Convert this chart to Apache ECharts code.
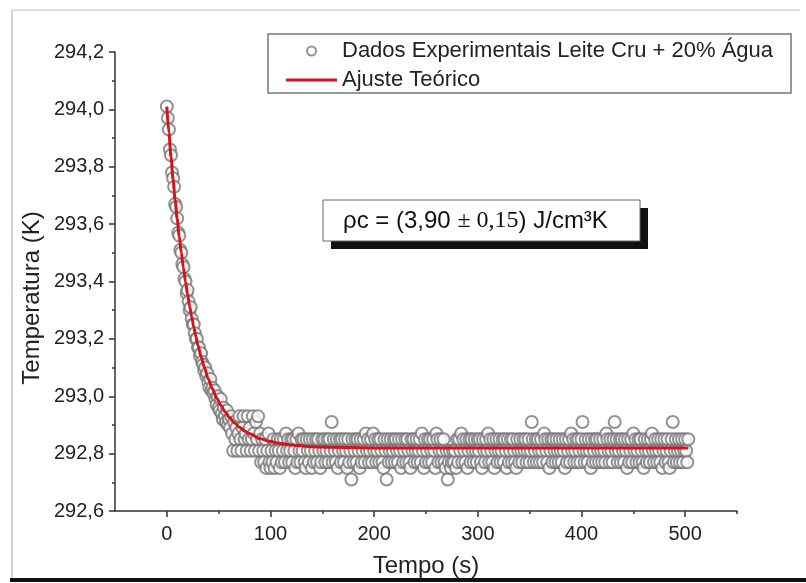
<!DOCTYPE html>
<html><head><meta charset="utf-8">
<script src="https://cdn.jsdelivr.net/npm/echarts@6/dist/echarts.min.js"></script>
<style>html,body{margin:0;padding:0;background:#fff}#c{width:806px;height:583px}</style>
</head><body><div id="c"></div>
<script>
// Measured temperatures (K), one reading per second, t = 0 .. 100 s (decay)
const decayTemps = [
294.01,293.97,293.93,293.86,293.84,293.78,293.76,293.73,293.67,293.66,
293.62,293.57,293.56,293.51,293.50,293.46,293.45,293.41,293.40,293.36,
293.37,293.33,293.30,293.31,293.27,293.25,293.25,293.22,293.20,293.20,
293.17,293.17,293.14,293.15,293.12,293.11,293.09,293.10,293.07,293.08,
293.05,293.03,293.06,293.02,293.03,293.01,293.02,292.99,292.97,293.00,
292.96,292.95,292.99,292.94,292.92,292.96,292.93,292.91,292.95,292.90,
292.92,292.89,292.93,292.87,292.81,292.91,292.85,292.89,292.81,292.87,
292.93,292.85,292.81,292.89,292.93,292.85,292.87,292.81,292.93,292.85,
292.89,292.81,292.85,292.93,292.87,292.81,292.91,292.85,292.93,292.81,
292.87,292.77,292.85,292.81,292.77,292.85,292.75,292.81,292.87,292.77,
292.75];
// Measured temperatures (K), t = 101 .. 503 s (plateau)
const flatTemps = [
292.81,292.77,292.85,292.75,292.81,292.77,292.85,292.81,292.75,292.85,292.77,292.81,292.85,292.77,292.87,292.81,292.85,292.77,292.81,292.85,
292.77,292.85,292.81,292.75,292.85,292.77,292.87,292.81,292.77,292.85,292.81,292.85,292.77,292.75,292.85,292.81,292.77,292.85,292.81,292.75,
292.85,292.77,292.81,292.85,292.77,292.85,292.81,292.75,292.77,292.85,292.81,292.85,292.77,292.81,292.85,292.77,292.85,292.81,292.91,292.77,
292.85,292.81,292.77,292.85,292.75,292.81,292.85,292.77,292.85,292.81,292.77,292.85,292.81,292.75,292.85,292.77,292.81,292.71,292.85,292.77,
292.81,292.85,292.77,292.85,292.81,292.75,292.85,292.77,292.81,292.85,292.77,292.87,292.81,292.85,292.77,292.81,292.85,292.77,292.87,292.81,
292.85,292.77,292.81,292.85,292.77,292.85,292.81,292.77,292.75,292.85,292.81,292.71,292.85,292.77,292.81,292.85,292.77,292.81,292.85,292.77,
292.85,292.81,292.77,292.85,292.81,292.75,292.85,292.77,292.81,292.85,292.77,292.85,292.81,292.77,292.75,292.85,292.81,292.85,292.77,292.81,
292.85,292.77,292.81,292.85,292.77,292.87,292.81,292.75,292.85,292.77,292.81,292.85,292.77,292.85,292.81,292.77,292.85,292.81,292.75,292.87,
292.85,292.77,292.81,292.85,292.77,292.81,292.85,292.77,292.75,292.81,292.71,292.77,292.81,292.75,292.77,292.81,292.77,292.81,292.75,292.85,
292.77,292.85,292.81,292.87,292.77,292.85,292.81,292.77,292.85,292.75,292.81,292.85,292.77,292.85,292.81,292.77,292.85,292.81,292.77,292.85,
292.81,292.85,292.77,292.75,292.85,292.81,292.77,292.85,292.81,292.87,292.77,292.85,292.81,292.77,292.85,292.75,292.81,292.85,292.77,292.81,
292.85,292.77,292.81,292.85,292.77,292.85,292.81,292.75,292.85,292.77,292.81,292.85,292.77,292.85,292.81,292.77,292.75,292.85,292.81,292.77,
292.85,292.81,292.77,292.85,292.81,292.85,292.77,292.81,292.85,292.77,292.81,292.91,292.85,292.77,292.81,292.85,292.77,292.85,292.81,292.77,
292.85,292.81,292.77,292.87,292.85,292.81,292.77,292.85,292.75,292.81,292.85,292.77,292.85,292.81,292.77,292.85,292.81,292.77,292.85,292.81,
292.77,292.85,292.81,292.75,292.85,292.77,292.81,292.85,292.77,292.87,292.81,292.85,292.77,292.81,292.85,292.77,292.85,292.81,292.77,292.85,
292.91,292.81,292.77,292.85,292.81,292.77,292.85,292.81,292.75,292.85,292.77,292.81,292.85,292.77,292.85,292.81,292.77,292.85,292.81,292.77,
292.85,292.81,292.77,292.87,292.85,292.81,292.77,292.85,292.81,292.77,292.85,292.91,292.81,292.85,292.77,292.81,292.85,292.77,292.85,292.81,
292.77,292.85,292.81,292.75,292.85,292.77,292.81,292.85,292.77,292.87,292.81,292.85,292.77,292.81,292.85,292.77,292.85,292.81,292.77,292.75,
292.85,292.81,292.77,292.85,292.81,292.77,292.85,292.87,292.81,292.77,292.85,292.81,292.77,292.85,292.81,292.77,292.85,292.75,292.81,292.85,
292.77,292.81,292.85,292.77,292.75,292.81,292.85,292.91,292.77,292.81,292.85,292.77,292.81,292.85,292.77,292.81,292.85,292.77,292.81,292.85,
292.81,292.77,292.85];
const timeStepSeconds = 1;
// Theoretical fit curve
const fitTime = [0,2,4,6,8,10,12,14,16,18,20,22,24,26,28,30,33,36,40,44,48,52,56,60,65,70,75,80,90,100,110,120,140,160,200,300,400,503];
const fitTemp = [294.010,293.919,293.834,293.756,293.684,293.618,293.556,293.500,293.447,293.399,293.355,293.314,293.276,293.241,293.208,293.178,293.138,293.102,293.060,293.025,292.994,292.969,292.947,292.928,292.908,292.892,292.879,292.869,292.852,292.842,292.835,292.830,292.824,292.822,292.820,292.820,292.820,292.820];
const xMajorTicks = [0,100,200,300,400,500];
const xMinorTicks = [50,150,250,350,450,550];
const seriesNames = ['Dados Experimentais Leite Cru + 20% Água', 'Ajuste Teórico'];
const xTitle = 'Tempo (s)';
const yTitle = 'Temperatura (K)';

const temps = decayTemps.concat(flatTemps);
const points = temps.map((v, i) => [i * timeStepSeconds, v]);
const fit = fitTime.map((t, i) => [t, fitTemp[i]]);

const FONT = '"Liberation Sans", Arial, sans-serif';
const SERIF = '"Liberation Serif", "Times New Roman", serif';
const AX = {color: '#333', width: 1.5};
const RED = '#d3141e';

const chart = echarts.init(document.getElementById('c'), null, {renderer: 'canvas'});
chart.setOption({
  animation: false,
  backgroundColor: '#fff',
  grid: {left: 115, right: 69, top: 52, bottom: 71, containLabel: false},
  xAxis: [{
    type: 'value', min: -50, max: 550, interval: 50,
    axisLine: {show: true, onZero: false, lineStyle: AX},
    axisTick: {show: true, customValues: xMajorTicks, length: 6, lineStyle: AX},
    axisLabel: {customValues: xMajorTicks, margin: 13, fontSize: 20, color: '#222', fontFamily: FONT},
    splitLine: {show: false},
    name: xTitle, nameLocation: 'middle', nameGap: 43,
    nameTextStyle: {fontSize: 24, color: '#222', fontFamily: FONT}
  }, {
    type: 'value', min: -50, max: 550, interval: 50, position: 'bottom',
    axisLine: {show: false, onZero: false},
    axisTick: {show: true, customValues: xMinorTicks, length: 3, lineStyle: AX},
    axisLabel: {show: false},
    splitLine: {show: false}
  }],
  yAxis: {
    type: 'value', min: 292.6, max: 294.2, interval: 0.2,
    axisLine: {show: true, onZero: false, lineStyle: AX},
    axisTick: {show: true, length: 6, lineStyle: AX},
    minorTick: {show: true, splitNumber: 2, length: 3, lineStyle: AX},
    axisLabel: {margin: 11, fontSize: 20, color: '#222', fontFamily: FONT,
      formatter: v => v.toFixed(1).replace('.', ',')},
    splitLine: {show: false},
    minorSplitLine: {show: false}
  },
  legend: {
    orient: 'vertical', left: 286, top: 40, padding: 0,
    itemWidth: 51, itemHeight: 9, itemGap: 7, selectedMode: false,
    textStyle: {fontSize: 22, lineHeight: 22, color: '#222', fontFamily: FONT},
    data: [
      {name: seriesNames[0]},
      {name: seriesNames[1], icon: 'path://M0,0 L51,0 L51,3 L0,3 Z', itemStyle: {color: RED, borderWidth: 0}}
    ]
  },
  series: [{
    type: 'scatter', name: seriesNames[0], data: points,
    xAxisIndex: 0, yAxisIndex: 0,
    symbol: 'emptyCircle', symbolSize: 12,
    itemStyle: {color: '#777', borderWidth: 0.8},
    z: 2
  }, {
    type: 'line', name: seriesNames[1], data: fit,
    xAxisIndex: 0, yAxisIndex: 0,
    symbol: 'none', showSymbol: false, smooth: 0.3, smoothMonotone: 'x',
    lineStyle: {color: RED, width: 3},
    itemStyle: {color: RED},
    z: 3
  }],
  graphic: [
    {type: 'line', shape: {x1: 12, y1: 10, x2: 12, y2: 579}, style: {stroke: '#aaa', lineWidth: 1}, silent: true},
    {type: 'line', shape: {x1: 12, y1: 10, x2: 800, y2: 10}, style: {stroke: '#bbb', lineWidth: 1}, silent: true},
    {type: 'line', shape: {x1: 10, y1: 580, x2: 806, y2: 580}, style: {stroke: '#111', lineWidth: 4}, silent: true},
    {type: 'rect', shape: {x: 268, y: 34, width: 523, height: 59}, style: {fill: 'none', stroke: '#777', lineWidth: 1.5}, silent: true},
    {type: 'rect', shape: {x: 331, y: 208, width: 317, height: 41}, style: {fill: '#111'}, silent: true, z: 10},
    {type: 'rect', shape: {x: 323, y: 200, width: 317, height: 41}, style: {fill: '#fff', stroke: '#666', lineWidth: 1}, silent: true, z: 11},
    {type: 'text', x: 343, y: 221, z: 12, silent: true,
      style: {text: '{a|ρc = (3,90 }{b|± 0,15}{a|) J/cm³K}', verticalAlign: 'middle', align: 'left',
        rich: {a: {fontSize: 24, fontFamily: FONT, fill: '#111', color: '#111'},
               b: {fontSize: 24, fontFamily: SERIF, fill: '#111', color: '#111'}}}},
    {type: 'text', x: 32, y: 298, rotation: Math.PI / 2, silent: true,
      style: {text: yTitle, fontSize: 24, fontFamily: FONT, fill: '#222', align: 'center', verticalAlign: 'middle'}}
  ]
});
</script>
</body></html>
